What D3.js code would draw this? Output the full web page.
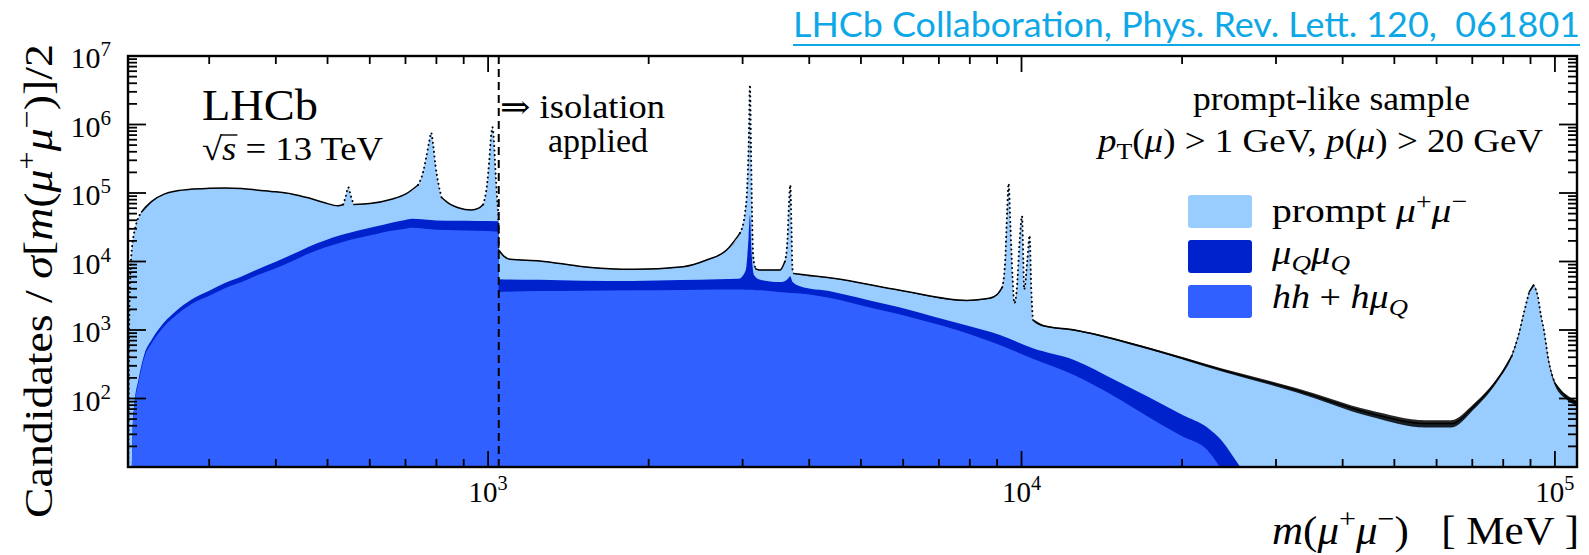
<!DOCTYPE html>
<html>
<head>
<meta charset="utf-8">
<script src="https://cdn.jsdelivr.net/npm/d3@7"></script>
<style>
  html, body { margin: 0; padding: 0; background: #fff; }
  svg { display: block; }
  text { font-family: "Liberation Serif", "DejaVu Serif", serif; fill: #000; white-space: pre; }
</style>
</head>
<body>
<svg id="chart" width="1589" height="555"></svg>
<script>
// Dimuon invariant-mass spectrum, prompt-like sample (masses in MeV).
// Data: candidates per half mass resolution.
const totalMass = [
  211.6, 212.3, 213, 214, 215.5, 217.6, 224, 233.8, 247.6, 260, 278, 300, 321, 345, 371, 400,
  428, 460, 494, 523, 535, 541, 547, 553, 560, 600, 659, 700, 739, 755, 765, 775, 782, 789,
  797, 808, 818, 850, 879, 930, 960, 979, 995, 1005, 1013, 1019, 1025, 1032, 1040, 1046,
  1047, 1070, 1099, 1250, 1508, 1871, 2322, 2568, 2800, 2966, 3030, 3060, 3080, 3097, 3110,
  3125, 3140, 3175, 3233, 3524, 3600, 3640, 3665, 3686, 3705, 3720, 3740, 4436, 5916, 7888,
  8700, 9000, 9200, 9321, 9400, 9460, 9530, 9620, 9700, 9800, 9920, 10023, 10080, 10116,
  10250, 10355, 10430, 10503, 11000, 12544, 17266, 23765, 32700, 45020, 57200, 63940, 70390,
  78700, 83000, 85300, 87500, 89500, 91200, 92800, 94200, 95350, 97500, 100000, 105000, 110000
];
const totalValue = [
  10, 800, 4000, 1.0e4, 1.9e4, 2.9e4, 5.3e4, 7.5e4, 9.7e4, 1.07e5, 1.14e5, 1.17e5, 1.18e5, 1.16e5, 1.1e5, 1.04e5,
  9.7e4, 8.5e4, 7.2e4, 6.5e4, 6.8e4, 9.0e4, 1.21e5, 9.0e4, 6.8e4, 7.0e4, 8.1e4, 9.6e4, 1.31e5, 2.0e5, 3.2e5, 5.5e5, 7.6e5, 5.0e5,
  2.5e5, 1.3e5, 8.6e4, 6.8e4, 6.1e4, 5.65e4, 6.0e4, 6.8e4, 1.3e5, 3.0e5, 7.0e5, 9.1e5, 6.0e5, 2.2e5, 8.0e4, 4.0e4,
  1.47e4, 1.2e4, 1.08e4, 1.02e4, 8.4e3, 7.7e3, 8.4e3, 1.05e4, 1.47e4, 2.6e4, 5.0e4, 1.2e5, 5.0e5, 3.8e6, 5.0e5,
  5.0e4, 1.2e4, 7.8e3, 7.5e3, 7.5e3, 1.0e4, 2.0e4, 7.0e4, 1.31e5, 3.0e4, 8.0e3, 6.7e3, 5.7e3, 3.8e3, 2.7e3,
  2.9e3, 3.3e3, 4.2e3, 1.05e4, 5.5e4, 1.38e5, 3.5e4, 6.0e3, 2.46e3, 4.0e3, 2.0e4, 4.6e4, 1.0e4, 3.9e3,
  1.0e4, 2.4e4, 4.0e3, 1.4e3, 1.15e3, 1.0e3, 541, 261, 133, 61, 43, 43, 76,
  208, 420, 800, 1.8e3, 3.6e3, 4.5e3, 3.2e3, 1.6e3, 1.0e3, 330, 167, 106, 85
];

// Background templates share one mass grid (no isolation below 1047 MeV, isolation above).
const bkgMass = [
  211.3, 214.5, 215.5, 217, 221, 227, 234, 241, 250, 259, 278, 300, 321, 345, 371, 400, 428, 460,
  494, 530, 571, 615, 659, 700, 719, 760, 800, 870, 950, 1046,
  1047, 1250, 1500, 1871, 2300, 2700, 2950, 3040, 3080, 3097, 3115, 3150, 3250, 3550, 3640, 3686,
  3720, 3842, 4400, 5124, 5900, 6831, 7900, 9113, 10500, 12544, 15000, 17266, 20000, 22300, 23765,
  25500, 27000, 30000, 110000
];
const hhValue = [
  0.1, 5, 30, 70, 167, 407, 640, 895, 1250, 1600, 2400, 3150, 4070, 5000, 6400, 8000, 1.0e4, 1.3e4,
  1.6e4, 1.9e4, 2.2e4, 2.5e4, 2.8e4, 3.0e4, 3.1e4, 3.0e4, 2.9e4, 2.85e4, 2.8e4, 2.72e4,
  3600, 3700, 3750, 3800, 3850, 3900, 3900, 3880, 3870, 3870, 3860, 3850, 3800, 3550, 3500, 3480,
  3460, 3400, 2900, 2190, 1700, 1250, 900, 604, 380, 220, 105, 54, 28, 17.7, 9,
  4, 2, 0.5, 0.1
];
const qqValue = [
  0.01, 0.5, 3, 8, 20, 45, 80, 120, 180, 250, 390, 590, 800, 1050, 1400, 1900, 2500, 3300,
  4300, 5300, 6300, 7400, 8900, 1.03e4, 1.1e4, 1.1e4, 1.08e4, 1.07e4, 1.1e4, 1.15e4,
  1900, 1700, 1500, 1400, 1500, 1600, 1700, 3500, 2.0e4, 4.4e4, 1.2e4, 2500, 1550, 1450, 2000, 2600,
  1600, 950, 750, 580, 440, 330, 260, 240, 160, 145, 80, 52, 30, 20, 15,
  7, 4, 1, 0.1
];

const isolationMass = 1047;
const xMajorTicks = [1e3, 1e4, 1e5];
const xTickExponents = ["3", "4", "5"];
const yMajorTicks = [1e2, 1e3, 1e4, 1e5, 1e6, 1e7];
const yTickExponents = ["2", "3", "4", "5", "6", "7"];
const colors = { prompt: "#99ccff", qq: "#0022cc", hh: "#3060ff" };

const svg = d3.select("#chart");
const P = { left: 128, right: 1577, top: 56, bottom: 467 };

const x = d3.scaleLog().domain([211.3, 110000]).range([P.left, P.right]);
const y = d3.scaleLog().domain([10, 1e7]).range([P.bottom, P.top]);
const yv = v => y(Math.max(v, 0.01));

svg.append("clipPath").attr("id", "plotClip")
  .append("rect").attr("x", P.left).attr("y", P.top)
  .attr("width", P.right - P.left).attr("height", P.bottom - P.top);

const plot = svg.append("g").attr("clip-path", "url(#plotClip)");

const total = totalMass.map((m, i) => ({ m, v: totalValue[i] }));
const bkg = bkgMass.map((m, i) => ({ m, hh: hhValue[i], qq: qqValue[i] }));
const stacked = d3.stack().keys(["hh", "qq"])(bkg);
const smooth = d3.curveMonotoneX;

// prompt component fills up to the full spectrum
plot.append("path")
  .datum(total)
  .attr("fill", colors.prompt)
  .attr("d", d3.area().curve(smooth).x(d => x(d.m)).y0(P.bottom + 5).y1(d => yv(d.v)));

// mu_Q mu_Q stacked on top of hh + h mu_Q
plot.append("path")
  .datum(stacked[1])
  .attr("fill", colors.qq)
  .attr("d", d3.area().curve(smooth).x((d, i) => x(bkgMass[i])).y0(P.bottom + 5).y1(d => yv(d[1])));

plot.append("path")
  .datum(stacked[0])
  .attr("fill", colors.hh)
  .attr("d", d3.area().curve(smooth).x((d, i) => x(bkgMass[i])).y0(P.bottom + 5).y1(d => yv(d[1])));

// statistical spread of the data points
plot.append("path")
  .datum(total)
  .attr("fill", "#000")
  .attr("fill-opacity", 0.85)
  .attr("d", d3.area().curve(smooth).x(d => x(d.m))
    .y0(d => yv(d.v * Math.max(0.05, 1 - 0.8 / Math.sqrt(d.v))))
    .y1(d => yv(d.v * (1 + 0.8 / Math.sqrt(d.v)))));

// data points: continuous where they crowd together, dotted on steep flanks
const pts = total.map(d => [x(d.m), yv(d.v)]);
const runs = [];
for (let i = 0; i < pts.length - 1; i++) {
  const dx = pts[i + 1][0] - pts[i][0], dy = pts[i + 1][1] - pts[i][1];
  const steep = Math.abs(dy) > 2.2 * Math.abs(dx) && Math.abs(dy) > 5;
  const last = runs[runs.length - 1];
  if (last && last.steep === steep) last.p.push(pts[i + 1]);
  else runs.push({ steep, p: [pts[i], pts[i + 1]] });
}
const line = d3.line().curve(smooth);
runs.forEach(r => {
  plot.append("path")
    .attr("d", line(r.p))
    .attr("fill", "none")
    .attr("stroke", "#000")
    .attr("stroke-width", r.steep ? 2 : 1.5)
    .attr("stroke-linecap", "round")
    .attr("stroke-dasharray", r.steep ? "0.1,4.5" : null);
});

// isolation boundary
svg.append("line")
  .attr("x1", x(isolationMass)).attr("x2", x(isolationMass))
  .attr("y1", P.top).attr("y2", P.bottom)
  .attr("stroke", "#000").attr("stroke-width", 2).attr("stroke-dasharray", "8,5");

// frame and ticks
const axes = svg.append("g").attr("stroke", "#000").attr("fill", "none");
axes.append("rect").attr("x", P.left).attr("y", P.top)
  .attr("width", P.right - P.left).attr("height", P.bottom - P.top)
  .attr("stroke-width", 2.4);

const isMajor = v => Math.abs(Math.log10(v) - Math.round(Math.log10(v))) < 1e-6;
x.ticks().forEach(t => {
  const len = isMajor(t) ? 16 : 8;
  const px = x(t);
  axes.append("line").attr("x1", px).attr("x2", px).attr("y1", P.bottom).attr("y2", P.bottom - len).attr("stroke-width", 1.8);
  axes.append("line").attr("x1", px).attr("x2", px).attr("y1", P.top).attr("y2", P.top + len).attr("stroke-width", 1.8);
});
y.ticks().forEach(t => {
  const len = isMajor(t) ? 18 : 9;
  const py = y(t);
  axes.append("line").attr("x1", P.left).attr("x2", P.left + len).attr("y1", py).attr("y2", py).attr("stroke-width", 1.8);
  axes.append("line").attr("x1", P.right).attr("x2", P.right - len).attr("y1", py).attr("y2", py).attr("stroke-width", 1.8);
});

// text with italic parts, sub- and superscripts; optional fitted width
function rich(sel, x0, yb, size, parts, anchor, width) {
  const t = sel.append("text").attr("x", x0).attr("y", yb)
    .attr("font-size", size).attr("text-anchor", anchor || "start");
  let shift = 0;
  parts.forEach(p => {
    const ts = t.append("tspan").text(p.t);
    if (p.i) ts.attr("font-style", "italic");
    let target = 0, fs = size;
    if (p.sup) { target = -0.4 * size; fs = 0.7 * size; }
    if (p.sub) { target = 0.22 * size; fs = 0.7 * size; }
    ts.attr("font-size", fs).attr("dy", target - shift);
    shift = target;
  });
  if (width) t.attr("textLength", width).attr("lengthAdjust", "spacingAndGlyphs");
  return t;
}

const labels = svg.append("g");
xMajorTicks.forEach((t, i) => {
  rich(labels, x(t), 502, 29, [{ t: "10" }, { t: xTickExponents[i], sup: true }], "middle");
});
yMajorTicks.forEach((t, i) => {
  rich(labels, 111, y(t) + 12, 30, [{ t: "10" }, { t: yTickExponents[i], sup: true }], "end");
});

// axis titles
rich(labels, 1272, 544, 40, [
  { t: "m", i: true }, { t: "(" }, { t: "μ", i: true }, { t: "+", sup: true }, { t: "μ", i: true },
  { t: "−", sup: true }, { t: ")   [ MeV ]" }
], "start", 307);

const ylab = svg.append("g").attr("transform", "translate(52,281) rotate(-90)");
rich(ylab, 0, 0, 40, [
  { t: "Candidates / " }, { t: "σ", i: true }, { t: "[" }, { t: "m", i: true }, { t: "(" },
  { t: "μ", i: true }, { t: "+", sup: true }, { t: "μ", i: true }, { t: "−", sup: true }, { t: ")]/2" }
], "middle", 474);

// experiment and conditions
rich(labels, 202, 120, 44, [{ t: "LHCb" }], "start", 116);
const sq = rich(labels, 202, 160, 33, [{ t: "√" }, { t: "s", i: true }, { t: " = 13 TeV" }], "start", 181);
{
  const n = sq.node();
  const s0 = n.getStartPositionOfChar(1).x, s1 = n.getEndPositionOfChar(1).x;
  labels.append("line").attr("x1", s0 - 1).attr("x2", s1 + 1)
    .attr("y1", 160 - 25).attr("y2", 160 - 25).attr("stroke", "#000").attr("stroke-width", 1.4);
}
rich(labels, 500, 118, 33, [{ t: "⇒ isolation" }], "start", 165);
rich(labels, 548, 152, 33, [{ t: "applied" }], "start", 100);
rich(labels, 1193, 110, 33, [{ t: "prompt-like sample" }], "start", 277);
rich(labels, 1098, 152, 33, [
  { t: "p", i: true }, { t: "T", sub: true }, { t: "(" }, { t: "μ", i: true }, { t: ") > 1 GeV, " },
  { t: "p", i: true }, { t: "(" }, { t: "μ", i: true }, { t: ") > 20 GeV" }
], "start", 445);

// legend
const legendRows = [
  { key: "prompt", y: 195, base: 222, w: 195,
    parts: [{ t: "prompt " }, { t: "μ", i: true }, { t: "+", sup: true }, { t: "μ", i: true }, { t: "−", sup: true }] },
  { key: "qq", y: 240, base: 264, w: 78,
    parts: [{ t: "μ", i: true }, { t: "Q", i: true, sub: true }, { t: "μ", i: true }, { t: "Q", i: true, sub: true }] },
  { key: "hh", y: 285, base: 308, w: 136,
    parts: [{ t: "hh", i: true }, { t: " + " }, { t: "hμ", i: true }, { t: "Q", i: true, sub: true }] }
];
const legend = svg.append("g");
legendRows.forEach(r => {
  legend.append("rect").attr("x", 1188).attr("y", r.y).attr("width", 64).attr("height", 33)
    .attr("rx", 3).attr("fill", colors[r.key]);
  rich(legend, 1272, r.base, 33, r.parts, "start", r.w);
});

// reference line at the top
svg.append("text").attr("x", 793).attr("y", 37)
  .attr("font-size", 34)
  .attr("textLength", 787).attr("lengthAdjust", "spacingAndGlyphs")
  .style("fill", "#0fa8e6").style("font-family", "Lato, 'Open Sans', sans-serif")
  .text("LHCb Collaboration, Phys. Rev. Lett. 120,  061801");
svg.append("line").attr("x1", 793).attr("x2", 1580).attr("y1", 45).attr("y2", 45)
  .attr("stroke", "#0fa8e6").attr("stroke-width", 2);
</script>
</body>
</html>
